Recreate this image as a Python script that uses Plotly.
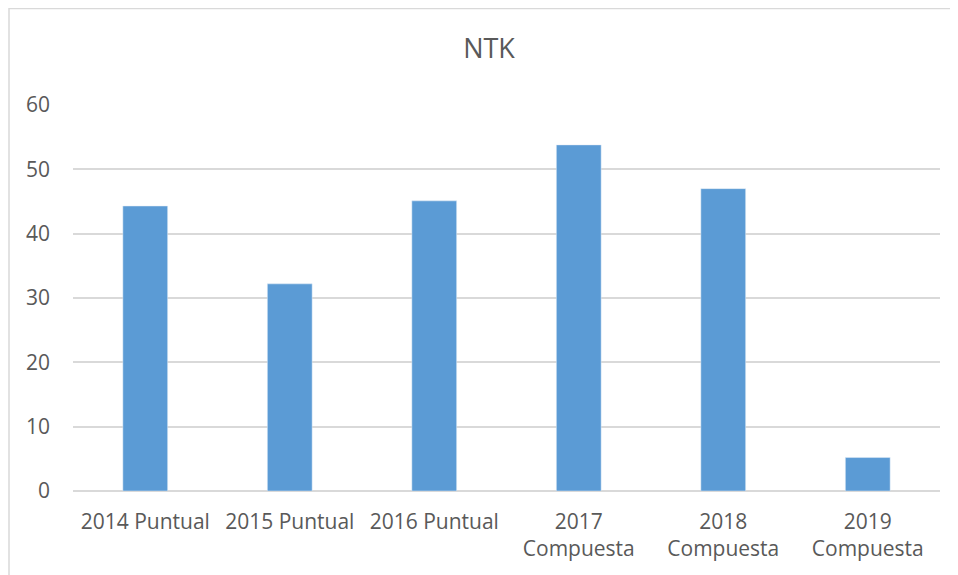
import plotly.graph_objects as go

categories = ["2014 Puntual", "2015 Puntual", "2016 Puntual", "2017<br>Compuesta", "2018<br>Compuesta", "2019<br>Compuesta"]
values = [44.3, 32.2, 45.1, 53.8, 47.0, 5.2]
y_ticks = [0, 10, 20, 30, 40, 50, 60]

OFF = 8  # default body margin of the html page
W, H = 958 - OFF, 575 - OFF
L, R, T, B = 73 - OFF, 18, 105 - OFF, 84
pw, ph = W - L - R, H - T - B

def px_x(x):
    return (x - L) / pw

def px_y(y):
    return (H - B - y) / ph

fig = go.Figure(go.Bar(x=categories, y=values, marker=dict(color="#5b9bd5"), width=0.31))

fig.update_layout(
    width=W, height=H,
    margin=dict(l=L, r=R, t=T, b=B),
    paper_bgcolor="white", plot_bgcolor="white",
    font=dict(family="Open Sans", color="#595959", size=21),
    title=dict(text="NTK", x=(489 - OFF) / W, xref="container", xanchor="center",
               y=1 - (49 - OFF) / H, yref="container", yanchor="middle",
               font=dict(size=27, color="#595959")),
    showlegend=False,
    xaxis=dict(showgrid=False, showline=False, ticks="", ticklabelstandoff=16,
               tickfont=dict(size=21, color="#595959")),
    yaxis=dict(range=[0, 60], tickvals=y_ticks, showgrid=True, gridcolor="#d9d9d9", gridwidth=1.5,
               zeroline=True, zerolinecolor="#d9d9d9", zerolinewidth=1.5, showline=False,
               ticklabelstandoff=22, tickfont=dict(size=21, color="#595959")),
    shapes=[
        dict(type="line", xref="paper", yref="paper", x0=px_x(1), x1=px_x(1), y0=px_y(0), y1=px_y(600),
             line=dict(color="#d9d9d9", width=1.5)),
        dict(type="line", xref="paper", yref="paper", x0=px_x(1), x1=px_x(975), y0=px_y(0.5), y1=px_y(0.5),
             line=dict(color="#d9d9d9", width=1.5)),
    ],
)

fig.write_html("out.html")
